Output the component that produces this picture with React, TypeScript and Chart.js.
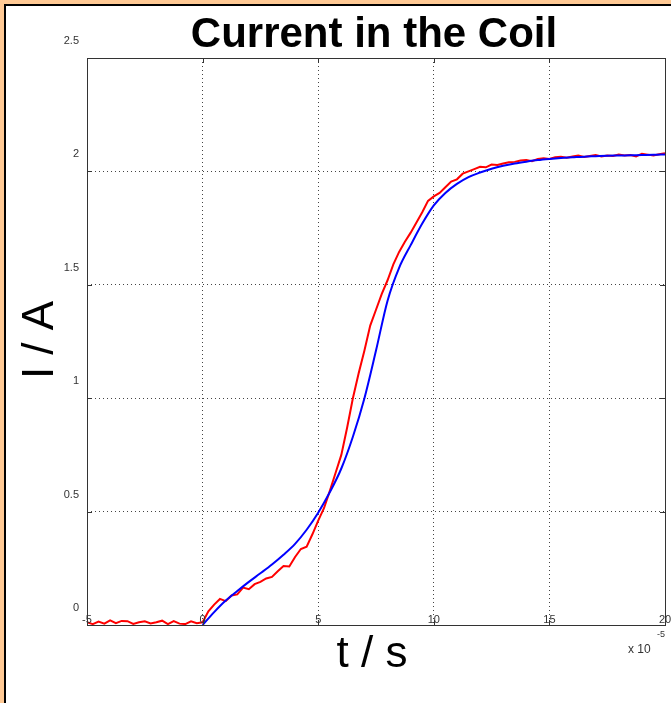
import React, { useEffect, useRef } from "react";
import { Chart, registerables } from "chart.js";

Chart.register(...registerables);

// ---- data (time in units of 1e-5 s, current in A) ----
const redT = [
  -5, -4.75, -4.5, -4.25, -4, -3.75, -3.5, -3.25, -3, -2.75, -2.5, -2.25, -2, -1.75, -1.5, -1.25, -1, -0.75, -0.5, -0.25,
  0, 0.25, 0.5, 0.75, 1, 1.25, 1.5, 1.75, 2, 2.25, 2.5, 2.75, 3, 3.25, 3.5, 3.75, 4, 4.25, 4.5, 4.75,
  5, 5.25, 5.5, 5.75, 6, 6.25, 6.5, 6.75, 7, 7.25, 7.5, 7.75, 8, 8.25, 8.5, 8.75, 9, 9.25, 9.5, 9.75,
  10, 10.25, 10.5, 10.75, 11, 11.25, 11.5, 11.75, 12, 12.25, 12.5, 12.75, 13, 13.25, 13.5, 13.75, 14, 14.25, 14.5, 14.75,
  15, 15.25, 15.5, 15.75, 16, 16.25, 16.5, 16.75, 17, 17.25, 17.5, 17.75, 18, 18.25, 18.5, 18.75, 19, 19.25, 19.5, 19.75, 20,
];
const redI = [
  0.012, 0.004, 0.015, 0.006, 0.02, 0.008, 0.018, 0.017, 0.005, 0.012, 0.016, 0.007, 0.012, 0.019, 0.004, 0.017, 0.006, 0.004, 0.016, 0.008,
  0.012, 0.06, 0.09, 0.115, 0.105, 0.13, 0.135, 0.165, 0.158, 0.18, 0.19, 0.205, 0.212, 0.237, 0.26, 0.258, 0.3, 0.335, 0.345, 0.4,
  0.46, 0.515, 0.59, 0.67, 0.75, 0.87, 1.0, 1.11, 1.21, 1.32, 1.39, 1.46, 1.52, 1.59, 1.645, 1.69, 1.73, 1.775, 1.82, 1.87,
  1.89, 1.905, 1.93, 1.955, 1.965, 1.99, 2.0, 2.01, 2.02, 2.018, 2.03, 2.028, 2.035, 2.04, 2.042, 2.048, 2.05, 2.045, 2.055, 2.058,
  2.055, 2.062, 2.065, 2.06, 2.066, 2.07, 2.064, 2.068, 2.072, 2.066, 2.07, 2.068, 2.074, 2.07, 2.072, 2.066, 2.078, 2.074, 2.07, 2.076, 2.08,
];
const blueT = [
  0, 0.5, 1, 1.5, 2, 2.5, 3, 3.5, 4, 4.5, 5, 5.5, 6, 6.5, 7, 7.5, 8, 8.5, 9, 9.5,
  10, 10.5, 11, 11.5, 12, 12.5, 13, 13.5, 14, 14.5, 15, 15.5, 16, 16.5, 17, 17.5, 18, 18.5, 19, 19.5, 20,
];
const blueI = [
  0, 0.057, 0.108, 0.15, 0.19, 0.228, 0.267, 0.31, 0.358, 0.42, 0.495, 0.585, 0.69, 0.83, 1.0, 1.21, 1.43, 1.575, 1.675, 1.77,
  1.85, 1.905, 1.945, 1.975, 1.995, 2.012, 2.025, 2.035, 2.043, 2.05, 2.055, 2.059, 2.062, 2.065, 2.067, 2.069, 2.07, 2.071, 2.072, 2.073, 2.075,
];
const xTicks = [-5, 0, 5, 10, 15, 20];
const yTicks = [0, 0.5, 1, 1.5, 2, 2.5];
const xTickLabels = ["-5", "0", "5", "10", "15", "20"];
const yTickLabels = ["0", "0.5", "1", "1.5", "2", "2.5"];
const titleText = "Current in the Coil";
const xLabel = "t / s";
const yLabel = "I / A";
const xExponent = "-5";

const FONT = '"Liberation Sans", Arial, Helvetica, sans-serif';

const decorPlugin = {
  id: "decor",
  beforeDraw(chart: any) {
    const { ctx, width, height } = chart;
    ctx.save();
    ctx.fillStyle = "#ffffff";
    ctx.fillRect(0, 0, width, height);
    ctx.fillStyle = "#ffc994";
    ctx.fillRect(0, 0, width, 4);
    ctx.fillRect(0, 0, 4, height);
    ctx.fillStyle = "#000000";
    ctx.fillRect(4, 4, width - 4, 2);
    ctx.fillRect(4, 4, 2, height - 4);
    ctx.restore();
  },
  afterDraw(chart: any) {
    const { ctx, chartArea } = chart;
    const xs = chart.scales.x;
    const ys = chart.scales.y;
    const { left, right, top, bottom } = chartArea;
    ctx.save();
    // frame
    ctx.strokeStyle = "#333333";
    ctx.lineWidth = 1;
    ctx.strokeRect(Math.round(left) + 0.5, Math.round(top) + 0.5, Math.round(right - left), Math.round(bottom - top));
    // inward tick marks
    ctx.beginPath();
    xTicks.forEach((v) => {
      const px = Math.round(xs.getPixelForValue(v)) + 0.5;
      ctx.moveTo(px, bottom);
      ctx.lineTo(px, bottom - 5);
      ctx.moveTo(px, top);
      ctx.lineTo(px, top + 5);
    });
    yTicks.forEach((v) => {
      const py = Math.round(ys.getPixelForValue(v)) + 0.5;
      ctx.moveTo(left, py);
      ctx.lineTo(left + 5, py);
      ctx.moveTo(right, py);
      ctx.lineTo(right - 5, py);
    });
    ctx.stroke();
    // tick labels
    ctx.fillStyle = "#333333";
    ctx.font = `11px ${FONT}`;
    ctx.textBaseline = "middle";
    ctx.textAlign = "right";
    yTicks.forEach((v, i) => {
      ctx.fillText(yTickLabels[i], left - 8, ys.getPixelForValue(v) - 17);
    });
    ctx.textAlign = "center";
    xTicks.forEach((v, i) => {
      ctx.fillText(xTickLabels[i], xs.getPixelForValue(v), bottom - 5);
    });
    // exponent
    ctx.textAlign = "left";
    ctx.textBaseline = "alphabetic";
    ctx.font = `12px ${FONT}`;
    ctx.fillText("x 10", right - 37, bottom + 28);
    ctx.font = `9px ${FONT}`;
    ctx.fillText(xExponent, right - 8, bottom + 12);
    // title
    ctx.fillStyle = "#000000";
    ctx.textAlign = "center";
    ctx.font = `bold 42px ${FONT}`;
    ctx.fillText(titleText, 374, 47);
    // x label
    ctx.font = `44px ${FONT}`;
    ctx.fillText(xLabel, 372, 667);
    // y label
    ctx.translate(53, 340);
    ctx.rotate(-Math.PI / 2);
    ctx.fillText(yLabel, 0, 0);
    ctx.restore();
  },
};

export default function App() {
  const ref = useRef<HTMLCanvasElement | null>(null);
  useEffect(() => {
    document.body.style.margin = "0";
    const canvas = ref.current;
    if (!canvas) return;
    const chart = new Chart(canvas, {
      type: "line",
      data: {
        datasets: [
          {
            label: "model",
            data: blueT.map((t, i) => ({ x: t, y: blueI[i] })),
            borderColor: "#0000ff",
            borderWidth: 2,
            pointRadius: 0,
            cubicInterpolationMode: "monotone",
            fill: false,
            order: 0,
          },
          {
            label: "measured",
            data: redT.map((t, i) => ({ x: t, y: redI[i] })),
            borderColor: "#ff0000",
            borderWidth: 2,
            pointRadius: 0,
            tension: 0,
            fill: false,
            order: 1,
          },
        ],
      },
      options: {
        responsive: false,
        animation: false,
        devicePixelRatio: 1,
        layout: { padding: { left: 87, top: 58, right: 6, bottom: 78 } },
        plugins: { legend: { display: false }, tooltip: { enabled: false }, title: { display: false } },
        scales: {
          x: {
            type: "linear",
            min: -5,
            max: 20,
            ticks: { display: false, stepSize: 5 },
            grid: { color: "#444444", lineWidth: 1, drawTicks: false },
            border: { display: false, dash: [1, 3] },
          },
          y: {
            type: "linear",
            min: 0,
            max: 2.5,
            ticks: { display: false, stepSize: 0.5 },
            grid: { color: "#444444", lineWidth: 1, drawTicks: false },
            border: { display: false, dash: [1, 3] },
          },
        },
      },
      plugins: [decorPlugin],
    } as any);
    return () => chart.destroy();
  }, []);
  return (
    <canvas
      ref={ref}
      width={671}
      height={703}
      style={{ position: "absolute", left: 0, top: 0, width: 671, height: 703, display: "block" }}
    />
  );
}
